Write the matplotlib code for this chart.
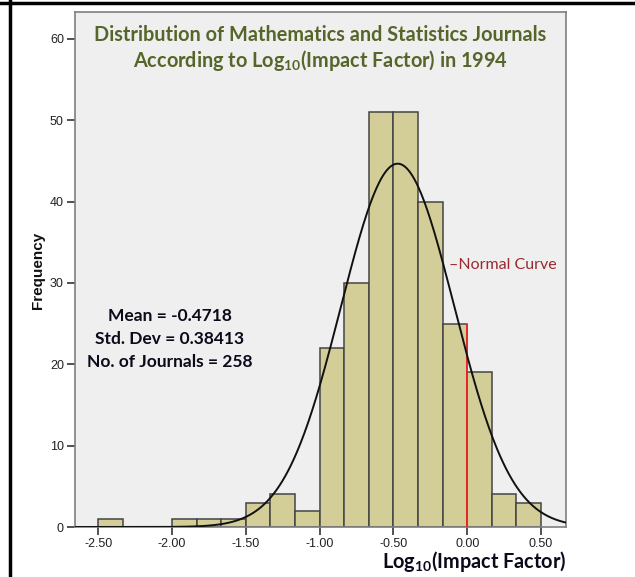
import numpy as np
import matplotlib
matplotlib.use("Agg")
import matplotlib.pyplot as plt
from matplotlib.lines import Line2D

# ---- data ----
bin_start = -2.5
bin_width = 1.0 / 6.0
counts = [1, 0, 0, 1, 1, 1, 3, 4, 2, 22, 30, 51, 51, 40, 25, 19, 4, 3]
mean_val = -0.4718
sd_val = 0.38413
n_journals = 258
ref_value = 0.0
x_ticks = [-2.5, -2.0, -1.5, -1.0, -0.5, 0.0, 0.5]
y_ticks = [0, 10, 20, 30, 40, 50, 60]

plt.rcParams['mathtext.fontset'] = 'custom'
plt.rcParams['mathtext.rm'] = 'Lato:bold'
plt.rcParams['mathtext.it'] = 'Lato:bold'
plt.rcParams['mathtext.bf'] = 'Lato:bold'

fig = plt.figure(figsize=(6.35, 5.77), dpi=100)
fig.patch.set_facecolor('white')
ax = fig.add_axes([75/635, 50/577, 491/635, 515/577])
ax.set_facecolor('#efefef')

edges = bin_start + bin_width * np.arange(len(counts) + 1)
ax.bar(edges[:-1], counts, width=bin_width, align='edge',
       color='#d3ce97', edgecolor='#444444', linewidth=1.1, zorder=2)

# reference line at bin edge
idx = int(round((ref_value - bin_start) / bin_width))
ax.vlines(ref_value, 0, max(counts[idx - 1], counts[idx]), color='#ff2020',
          linewidth=1.2, zorder=3)

xlim = (-2.658, 0.669)
ax.set_xlim(*xlim)
ax.set_ylim(0, 63.3)

xs = np.linspace(xlim[0], xlim[1], 500)
pdf = np.exp(-0.5 * ((xs - mean_val) / sd_val) ** 2) / (sd_val * np.sqrt(2 * np.pi))
ax.plot(xs, n_journals * bin_width * pdf, color='#111111', linewidth=1.4, zorder=4)

ax.set_xticks(x_ticks)
ax.set_xticklabels([f"{t:.2f}" for t in x_ticks])
ax.set_yticks(y_ticks)
ax.set_yticklabels([str(t) for t in y_ticks])
ax.tick_params(axis='both', length=6, width=1.2, color='#333333',
               labelsize=9, labelcolor='#222222', pad=2)
for lab in ax.get_xticklabels() + ax.get_yticklabels():
    lab.set_fontfamily('Liberation Sans')
for s in ax.spines.values():
    s.set_color('#7f7f7f')
    s.set_linewidth(1.2)

title_color = '#56662a'
ax.text(0.5, 0.955, 'Distribution of Mathematics and Statistics Journals',
        transform=ax.transAxes, ha='center', va='center', fontsize=14.3,
        fontweight='bold', family='Lato', color=title_color)
ax.text(0.5, 0.906, r'According to Log$_{10}$(Impact Factor) in 1994',
        transform=ax.transAxes, ha='center', va='center', fontsize=14.3,
        fontweight='bold', family='Lato', color=title_color)

stats_lines = [f"Mean = {mean_val}", f"Std. Dev = {sd_val}",
               f"No. of Journals = {n_journals}"]
for i, line in enumerate(stats_lines):
    fig.text(170/635, 1 - (316 + i * 23) / 577, line, ha='center', va='center',
             fontsize=12.5, fontweight='bold', family='Lato', color='#0a0a1a')

fig.text(449/635, 1 - 265/577, '\u2013Normal Curve', ha='left', va='center',
         fontsize=11.5, family='Lato', color='#9a2a2e')

fig.text(566/635, 1 - 562/577, r'Log$_{10}$(Impact Factor)', ha='right',
         va='center', fontsize=14.3, fontweight='bold', family='Lato',
         color='#0a0a1a')
fig.text(38/635, 1 - 270/577, 'Frequency', ha='center', va='center',
         rotation=90, fontsize=11, fontweight='bold', family='Liberation Sans',
         color='#111111')

# outer frame lines (top and left)
fig.add_artist(Line2D([0, 1], [1 - 2.5/577, 1 - 2.5/577], color='black',
                      linewidth=2.5, transform=fig.transFigure))
fig.add_artist(Line2D([9.5/635, 9.5/635], [0, 1], color='black',
                      linewidth=2.5, transform=fig.transFigure))

fig.savefig('out.png', dpi=100)
